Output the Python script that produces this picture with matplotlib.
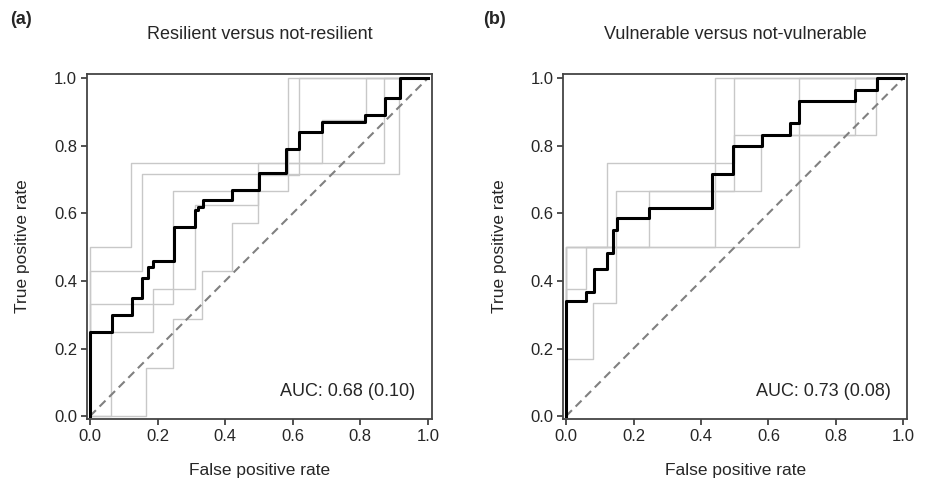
import matplotlib
matplotlib.use("Agg")
import matplotlib.pyplot as plt

plt.rcParams['font.family'] = ['Liberation Sans', 'DejaVu Sans']
plt.rcParams['text.color'] = '#262626'
plt.rcParams['axes.labelcolor'] = '#262626'
plt.rcParams['xtick.labelcolor'] = '#262626'
plt.rcParams['ytick.labelcolor'] = '#262626'

# (a) resilient vs not-resilient: mean curve (step points) + per-fold curves
a_mean_fpr = [0, 0, 0.064, 0.123, 0.153, 0.173, 0.187, 0.25, 0.31, 0.32, 0.335, 0.42,
              0.5, 0.58, 0.618, 0.688, 0.814, 0.873, 0.917, 1.0]
a_mean_tpr = [0, 0.25, 0.30, 0.35, 0.41, 0.44, 0.46, 0.56, 0.61, 0.62, 0.64, 0.67,
              0.72, 0.79, 0.84, 0.87, 0.89, 0.94, 1.0, 1.0]
a_folds = [
    ([0, 0, 0.12, 0.871, 1.0], [0, 0.5, 0.75, 1.0, 1.0]),
    ([0, 0, 0.153, 0.915, 1.0], [0, 0.43, 0.715, 1.0, 1.0]),
    ([0, 0, 0.246, 0.587, 1.0], [0, 0.333, 0.667, 1.0, 1.0]),
    ([0, 0.165, 0.246, 0.33, 0.42, 0.498, 0.619, 1.0],
     [0, 0.143, 0.286, 0.429, 0.571, 0.714, 1.0, 1.0]),
    ([0, 0.062, 0.187, 0.31, 0.498, 0.687, 0.816, 1.0],
     [0, 0.25, 0.375, 0.625, 0.75, 0.875, 1.0, 1.0]),
]
a_title = "Resilient versus not-resilient"
a_auc = "AUC: 0.68 (0.10)"

# (b) vulnerable vs not-vulnerable
b_mean_fpr = [0, 0, 0.059, 0.082, 0.122, 0.139, 0.151, 0.245, 0.432, 0.494, 0.58,
              0.664, 0.689, 0.855, 0.923, 1.0]
b_mean_tpr = [0, 0.342, 0.367, 0.434, 0.483, 0.55, 0.585, 0.616, 0.715, 0.799, 0.833,
              0.868, 0.932, 0.964, 1.0, 1.0]
b_folds = [
    ([0, 0, 0.08, 0.149, 0.578, 0.857, 1.0], [0, 0.168, 0.335, 0.666, 0.833, 1.0, 1.0]),
    ([0, 0, 0.06, 0.12, 0.497, 1.0], [0, 0.375, 0.5, 0.75, 1.0, 1.0]),
    ([0, 0, 0.689, 1.0], [0, 0.5, 1.0, 1.0]),
    ([0, 0, 0.44, 1.0], [0, 0.5, 1.0, 1.0]),
    ([0, 0, 0.247, 0.497, 0.919, 1.0], [0, 0.5, 0.666, 0.833, 1.0, 1.0]),
]
b_title = "Vulnerable versus not-vulnerable"
b_auc = "AUC: 0.73 (0.08)"

ticks = [0.0, 0.2, 0.4, 0.6, 0.8, 1.0]

fig = plt.figure(figsize=(9.3, 4.84), dpi=100)
ax1 = fig.add_axes([0.0935, 0.134, 0.371, 0.713])
ax2 = fig.add_axes([0.6054, 0.134, 0.3704, 0.713])

panels = [
    (ax1, "(a)", a_title, a_auc, a_mean_fpr, a_mean_tpr, a_folds),
    (ax2, "(b)", b_title, b_auc, b_mean_fpr, b_mean_tpr, b_folds),
]

for ax, lab, title, auc, mf, mt, folds in panels:
    for fx, fy in folds:
        ax.plot(fx, fy, drawstyle='steps-post', color='#c8c8c8', lw=1.0, zorder=1)
    ax.plot([0, 1], [0, 1], ls=(0, (4, 2.5)), color='#808080', lw=1.5, zorder=2)
    ax.plot(mf, mt, drawstyle='steps-post', color='black', lw=2.2, zorder=3)
    ax.set_xlim(-0.009, 1.012)
    ax.set_ylim(-0.009, 1.012)
    ax.set_xticks(ticks)
    ax.set_yticks(ticks)
    ax.set_xticklabels([f"{t:.1f}" for t in ticks], fontsize=12)
    ax.set_yticklabels([f"{t:.1f}" for t in ticks], fontsize=12)
    ax.tick_params(direction='out', length=4, width=1.2, color='#333333', pad=3)
    for s in ax.spines.values():
        s.set_color('#444444')
        s.set_linewidth(1.3)
    ax.set_xlabel("False positive rate", fontsize=12.5, labelpad=14)
    ax.set_ylabel("True positive rate", fontsize=12.5, labelpad=17)
    ax.set_title(title, fontsize=13, pad=25)
    ax.text(0.952, 0.055, auc, transform=ax.transAxes, ha='right', va='bottom', fontsize=13)

fig.text(10 / 930, 1 - 19 / 484, "(a)", fontsize=13, fontweight='bold', va='center')
fig.text(483 / 930, 1 - 19 / 484, "(b)", fontsize=13, fontweight='bold', va='center')

fig.savefig("out.png", dpi=100)
